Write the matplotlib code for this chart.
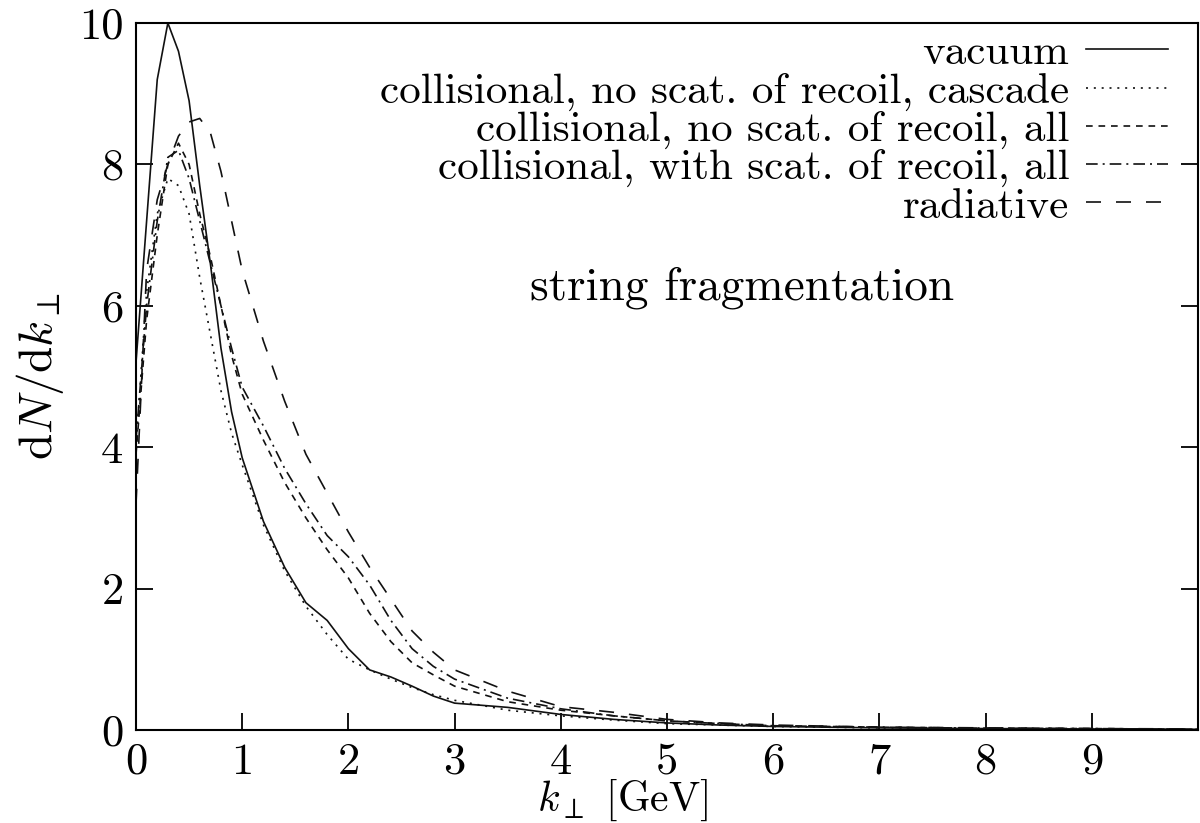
import numpy as np
import matplotlib
matplotlib.use("Agg")
import matplotlib.pyplot as plt

plt.rcParams['font.family'] = 'serif'
plt.rcParams['font.serif'] = ['cmr10', 'DejaVu Serif']
plt.rcParams['mathtext.fontset'] = 'cm'
plt.rcParams['axes.formatter.use_mathtext'] = True

# k_perp grid [GeV]
k_perp = [0, 0.1, 0.2, 0.3, 0.4, 0.5, 0.6, 0.7, 0.8, 0.9, 1.0, 1.2, 1.4, 1.6,
          1.8, 2.0, 2.2, 2.4, 2.6, 2.8, 3.0, 3.5, 4.0, 4.5, 5.0, 5.5, 6.0,
          7.0, 8.0, 9.0, 10.0]

vacuum = [5.2, 7.2, 9.2, 10.0, 9.6, 8.9, 7.7, 6.6, 5.4, 4.5, 3.85, 2.95, 2.3,
          1.8, 1.55, 1.15, 0.85, 0.75, 0.62, 0.48, 0.38, 0.32, 0.22, 0.15,
          0.1, 0.07, 0.05, 0.03, 0.02, 0.015, 0.01]
coll_noscat_cascade = [4.0, 6.2, 7.3, 7.8, 7.7, 7.3, 6.4, 5.6, 4.8, 4.2, 3.75,
                       2.9, 2.25, 1.75, 1.35, 1.0, 0.85, 0.72, 0.6, 0.5, 0.42,
                       0.28, 0.2, 0.14, 0.09, 0.07, 0.05, 0.03, 0.02, 0.015,
                       0.01]
coll_noscat_all = [3.9, 5.8, 7.0, 8.0, 8.3, 8.0, 7.3, 6.7, 6.0, 5.3, 4.75, 4.1,
                   3.5, 3.0, 2.55, 2.15, 1.65, 1.25, 0.95, 0.78, 0.62, 0.4,
                   0.28, 0.2, 0.13, 0.09, 0.06, 0.04, 0.025, 0.02, 0.01]
coll_scat_all = [4.1, 6.0, 7.2, 8.1, 8.2, 7.8, 7.2, 6.6, 6.0, 5.4, 4.85, 4.3,
                 3.7, 3.2, 2.75, 2.45, 2.05, 1.55, 1.15, 0.9, 0.72, 0.45, 0.3,
                 0.2, 0.13, 0.09, 0.06, 0.04, 0.025, 0.02, 0.01]
radiative = [3.2, 6.5, 7.5, 8.0, 8.4, 8.6, 8.65, 8.45, 7.9, 7.2, 6.5, 5.5,
             4.65, 3.9, 3.35, 2.8, 2.3, 1.85, 1.4, 1.1, 0.85, 0.55, 0.33, 0.25,
             0.15, 0.1, 0.07, 0.04, 0.03, 0.02, 0.015]

labels = ['vacuum',
          'collisional, no scat. of recoil, cascade',
          'collisional, no scat. of recoil, all',
          'collisional, with scat. of recoil, all',
          'radiative']
x_ticks = [0, 1, 2, 3, 4, 5, 6, 7, 8, 9, 10]
y_ticks = [0, 2, 4, 6, 8, 10]

series = [vacuum, coll_noscat_cascade, coll_noscat_all, coll_scat_all, radiative]
styles = ['-', (0, (1.2, 3.5)), (0, (4, 3.5)), (0, (7, 3, 1.2, 3)), (0, (9, 9))]

fig = plt.figure(figsize=(12, 8.23), dpi=100)
ax = fig.add_axes([136 / 1200, 93 / 823, 1062 / 1200, 707 / 823])

for y, ls, lab in zip(series, styles, labels):
    ax.plot(k_perp, y, color='#111111', lw=1.2, linestyle=ls, label=lab)

ax.set_xlim(0, 10)
ax.set_ylim(0, 10)
ax.set_xticks(x_ticks)
ax.set_yticks(y_ticks)
ax.set_xticklabels([str(t) for t in x_ticks])
ax.set_yticklabels([str(t) for t in y_ticks])
# last label sits at the clipped right edge, like the original
ax.get_xticklabels()[-1].set_horizontalalignment('left')

ax.tick_params(direction='in', length=12, width=1.3, labelsize=32, pad=9,
               right=True, top=False)
for sp in ax.spines.values():
    sp.set_linewidth(1.5)

ax.set_xlabel(r'$k_\perp$ [GeV]', fontsize=30)
ax.xaxis.set_label_coords(0.458, -0.068)
ax.set_ylabel(r'$\mathrm{d}N/\mathrm{d}k_\perp$', fontsize=34)
ax.yaxis.set_label_coords(-0.066, 0.5)

ax.text(0.571, 0.625, 'string fragmentation', transform=ax.transAxes,
        fontsize=34, ha='center', va='center')

leg = ax.legend(loc='upper right', bbox_to_anchor=(0.972, 0.984),
                markerfirst=False, frameon=False,
                fontsize=31, handlelength=1.9, handletextpad=0.4,
                labelspacing=0.0, borderaxespad=0.0, borderpad=0.0)

fig.savefig('out.png', dpi=100)
